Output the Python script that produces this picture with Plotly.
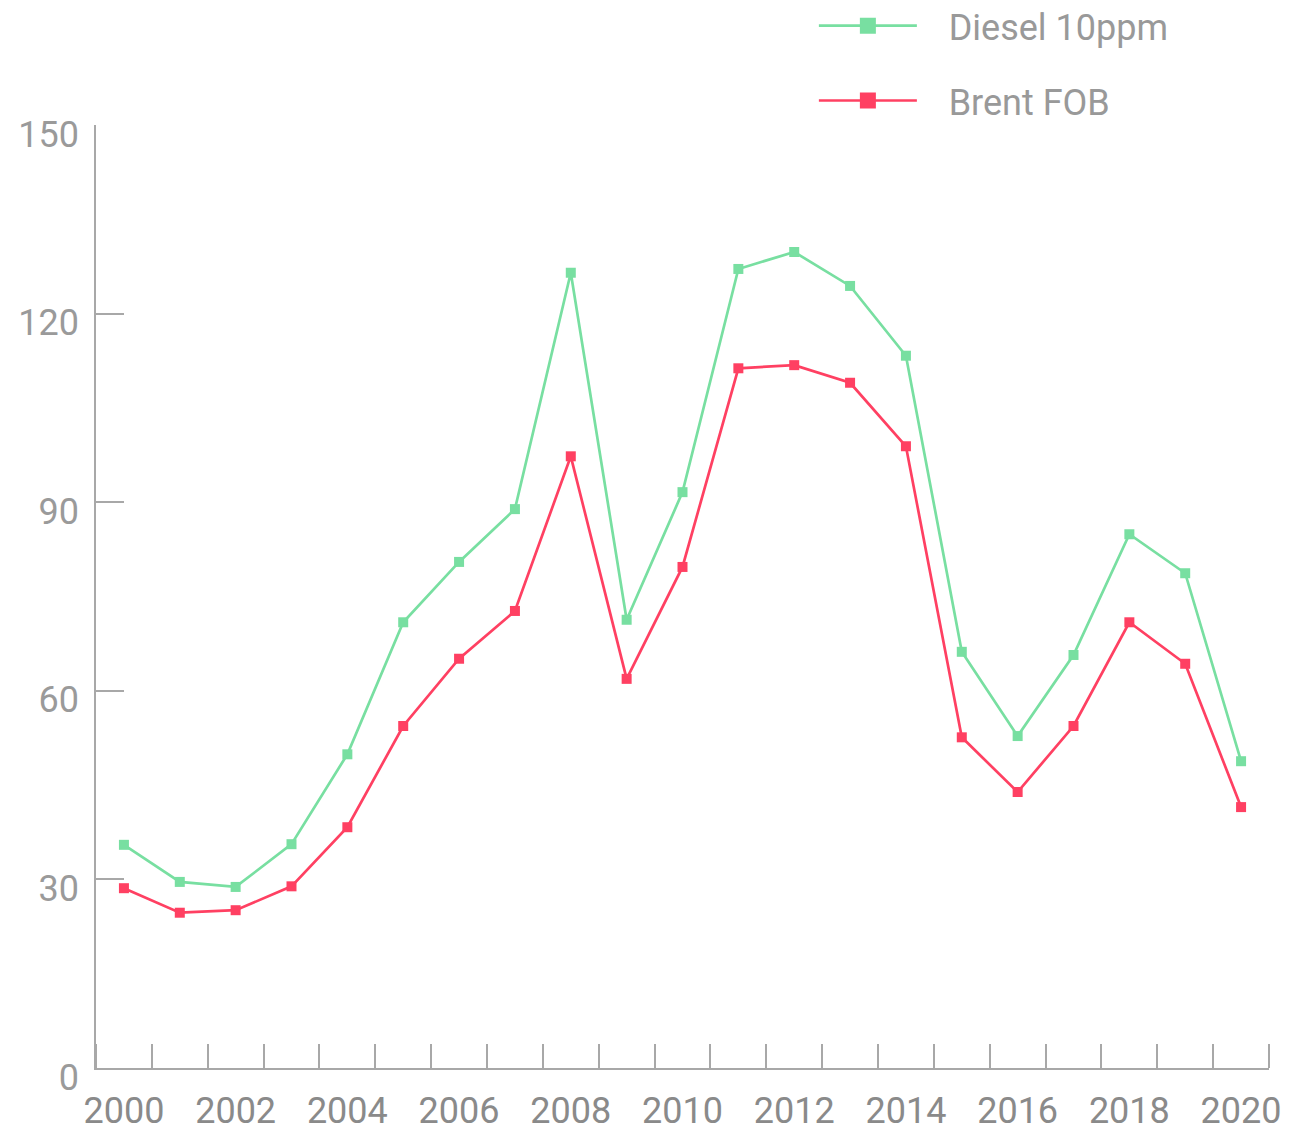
import plotly.graph_objects as go

years = list(range(2000, 2021))
diesel = [35.5, 29.6, 28.8, 35.6, 49.9, 70.9, 80.5, 88.9, 126.5, 71.3, 91.6,
          127.1, 129.8, 124.4, 113.3, 66.2, 52.8, 65.7, 84.9, 78.7, 48.8]
brent = [28.6, 24.7, 25.1, 28.9, 38.3, 54.4, 65.1, 72.7, 97.3, 61.9, 79.7,
         111.3, 111.8, 109.0, 98.9, 52.6, 43.9, 54.4, 70.9, 64.3, 41.5]
x_labels = [2000, 2002, 2004, 2006, 2008, 2010, 2012, 2014, 2016, 2018, 2020]
y_ticks = [0, 30, 60, 90, 120, 150]
boundaries = [y - 0.5 for y in years] + [years[-1] + 0.5]

green = "#78dfa1"
red = "#ff4062"
axis_col = "#a8a8a8"
gap = "\u00a0\u00a0\u00a0"

fig = go.Figure()
for name, vals, col, grp in [("Diesel 10ppm", diesel, green, "a"), ("Brent FOB", brent, red, "b")]:
    fig.add_trace(go.Scatter(x=years, y=vals, name=name, mode="lines+markers",
                             line=dict(color=col, width=2.7),
                             marker=dict(symbol="square", size=10, color=col),
                             legendgroup=grp, showlegend=False))
    # legend-only entry with larger symbol
    fig.add_trace(go.Scatter(x=[None], y=[None], name=gap + name, mode="lines+markers",
                             line=dict(color=col, width=2.7),
                             marker=dict(symbol="square", size=16, color=col),
                             legendgroup=grp, showlegend=True))

fig.update_layout(
    width=1306, height=1126,
    margin=dict(l=88, r=45, t=117, b=66, autoexpand=False),
    plot_bgcolor="white", paper_bgcolor="white",
    font=dict(family="Roboto", size=36, color="#999999"),
    showlegend=True,
    legend=dict(x=0.612, y=1.137, xanchor="left", yanchor="top",
                traceorder="grouped", tracegroupgap=25,
                font=dict(size=36, color="#999999"), itemwidth=98,
                bgcolor="rgba(0,0,0,0)"),
    xaxis=dict(range=[1999.5, 2020.5], tickmode="array", tickvals=x_labels,
               ticktext=[str(v) for v in x_labels], ticks="", automargin=False,
               showline=True, linecolor=axis_col, linewidth=1.5,
               showgrid=False, zeroline=False,
               tickfont=dict(size=36, color="#8a8a8a"),
               ticklabelstandoff=10,
               minor=dict(tickmode="array", tickvals=boundaries, ticks="inside",
                          ticklen=24, tickcolor=axis_col, tickwidth=1.5, showgrid=False)),
    yaxis=dict(range=[0, 150], tickmode="array", tickvals=y_ticks, ticks="inside",
               ticklen=28, tickcolor=axis_col, tickwidth=1.5, automargin=False,
               showline=True, linecolor=axis_col, linewidth=1.5,
               showgrid=False, zeroline=False,
               tickfont=dict(size=36, color="#9a9a9a"),
               ticklabelstandoff=8, ticklabelshift=9),
)

fig.write_html("out.html")
